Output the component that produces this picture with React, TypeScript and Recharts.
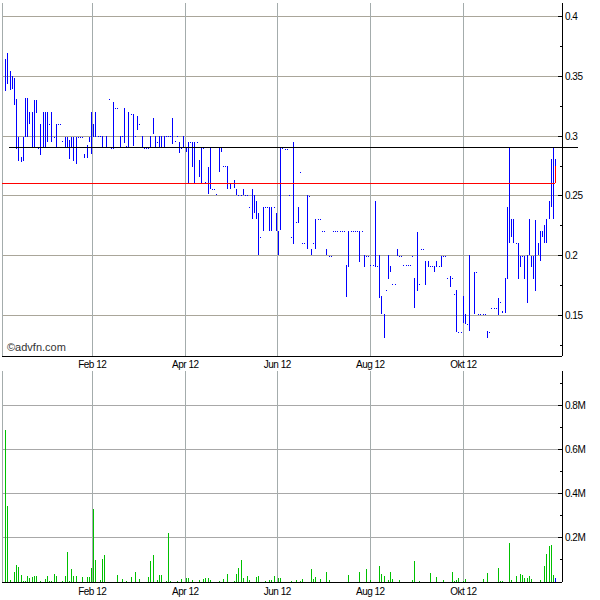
import React from 'react';
import { Bar, CartesianGrid, ComposedChart, ReferenceLine, XAxis, YAxis } from 'recharts';

// one entry per trading day (index = day), prices in EUR, volume in millions
const highs = [
  null, 0.365, 0.37, 0.355, 0.35, 0.349, 0.331, 0.299, 0.283, 0.299,
  0.332, 0.332, 0.32, 0.32, 0.33, 0.33, 0.29, 0.31, 0.32, 0.32,
  0.32, 0.31, 0.32, 0.299, 0.31, 0.31, 0.31, 0.296, 0.299, 0.299,
  0.297, 0.299, 0.299, 0.299, 0.299, 0.299, 0.299, 0.285, 0.293, 0.299,
  0.32, 0.31, 0.32, 0.3, 0.3, 0.3, 0.291, 0.3, 0.331, 0.29,
  0.329, 0.324, 0.324, 0.3, 0.3, 0.324, 0.292, 0.32, 0.319, 0.319,
  0.3, 0.317, 0.31, 0.3, 0.29, 0.29, 0.29, 0.3, 0.315, 0.3,
  0.295, 0.3, 0.3, 0.3, 0.3, 0.3, 0.3, 0.315, 0.296, 0.3,
  0.295, 0.29, 0.3, 0.29, 0.295, 0.295, 0.295, 0.295, 0.295, 0.28,
  0.29, 0.29, 0.262, 0.274, 0.29, 0.256, 0.256, 0.252, 0.29, 0.29,
  0.275, 0.275, 0.275, 0.261, 0.261, 0.263, 0.256, 0.251, 0.251, 0.256,
  0.251, 0.251, 0.241, 0.256, 0.251, 0.246, 0.236, 0.216, 0.241, 0.241,
  0.241, 0.241, 0.241, 0.241, 0.236, 0.221, 0.29, 0.29, 0.289, 0.289,
  0.251, 0.216, 0.295, 0.228, 0.241, 0.27, 0.211, 0.211, 0.251, 0.25,
  0.206, 0.211, 0.231, 0.231, 0.231, 0.221, 0.221, 0.206, 0.2, 0.2,
  0.221, 0.221, 0.221, 0.221, 0.221, 0.221, 0.192, 0.221, 0.221, 0.221,
  0.221, 0.221, 0.221, 0.221, 0.201, 0.2, 0.2, 0.192, 0.192, 0.246,
  0.191, 0.201, 0.166, 0.151, 0.171, 0.201, 0.191, 0.176, 0.176, 0.206,
  0.2, 0.2, 0.192, 0.192, 0.192, 0.192, 0.2, 0.181, 0.22, 0.176,
  0.206, 0.206, 0.196, 0.196, 0.191, 0.191, 0.191, 0.196, 0.191, 0.2,
  0.2, 0.2, 0.181, 0.183, 0.181, 0.168, 0.171, 0.136, 0.136, 0.166,
  0.151, 0.143, 0.201, null, 0.186, 0.186, 0.151, 0.151, 0.151, 0.151,
  0.137, 0.136, 0.156, 0.156, 0.156, 0.165, 0.161, 0.154, 0.181, 0.241,
  0.291, 0.231, 0.231, 0.211, 0.211, 0.2, 0.2, 0.2, 0.201, 0.231,
  0.2, 0.2, 0.23, 0.211, 0.221, 0.221, 0.226, 0.231, 0.246, 0.281,
  0.291, 0.281,
];

const lows = [
  null, 0.338, 0.344, 0.339, 0.339, 0.326, 0.289, 0.279, 0.279, 0.279,
  0.299, 0.299, 0.31, 0.291, 0.29, 0.319, 0.29, 0.284, 0.29, 0.29,
  0.295, 0.31, 0.295, 0.299, 0.29, 0.31, 0.31, 0.296, 0.29, 0.29,
  0.281, 0.29, 0.279, 0.276, 0.299, 0.299, 0.299, 0.282, 0.282, 0.295,
  0.285, 0.299, 0.299, 0.3, 0.3, 0.29, 0.29, 0.29, 0.331, 0.29,
  0.29, 0.324, 0.324, 0.29, 0.3, 0.295, 0.292, 0.29, 0.319, 0.292,
  0.3, 0.305, 0.31, 0.29, 0.29, 0.29, 0.29, 0.291, 0.302, 0.29,
  0.295, 0.29, 0.29, 0.29, 0.3, 0.3, 0.3, 0.293, 0.296, 0.3,
  0.286, 0.29, 0.29, 0.287, 0.261, 0.295, 0.274, 0.261, 0.295, 0.266,
  0.261, 0.29, 0.262, 0.251, 0.256, 0.256, 0.256, 0.252, 0.27, 0.287,
  0.275, 0.275, 0.256, 0.256, 0.261, 0.256, 0.251, 0.251, 0.251, 0.251,
  0.251, 0.251, 0.241, 0.231, 0.236, 0.231, 0.201, 0.216, 0.221, 0.241,
  0.241, 0.221, 0.221, 0.241, 0.221, 0.201, 0.221, 0.29, 0.289, 0.289,
  0.251, 0.216, 0.21, 0.228, 0.228, 0.27, 0.211, 0.211, 0.206, 0.25,
  0.201, 0.211, 0.206, 0.231, 0.231, 0.221, 0.221, 0.201, 0.2, 0.2,
  0.221, 0.221, 0.221, 0.221, 0.221, 0.221, 0.165, 0.191, 0.221, 0.221,
  0.221, 0.221, 0.195, 0.221, 0.191, 0.2, 0.2, 0.192, 0.192, 0.191,
  0.191, 0.165, 0.151, 0.131, 0.171, 0.181, 0.186, 0.176, 0.176, 0.2,
  0.2, 0.2, 0.192, 0.192, 0.192, 0.192, 0.2, 0.156, 0.171, 0.176,
  0.206, 0.206, 0.176, 0.191, 0.191, 0.191, 0.186, 0.191, 0.191, 0.191,
  0.2, 0.2, 0.181, 0.174, 0.181, 0.168, 0.136, 0.136, 0.136, 0.143,
  0.143, 0.143, 0.137, null, 0.151, 0.186, 0.151, 0.151, 0.151, 0.151,
  0.131, 0.136, 0.156, 0.156, 0.156, 0.151, 0.161, 0.152, 0.152, 0.181,
  0.211, 0.216, 0.211, 0.211, 0.181, 0.191, 0.2, 0.181, 0.161, 0.201,
  0.191, 0.181, 0.171, 0.201, 0.196, 0.216, 0.211, 0.211, 0.231, 0.241,
  0.231, 0.261,
];

const volumes = [
  0, 0.689, 0.344, 0.01, 0, 0.044, 0.079, 0.066, 0.033, 0.006,
  0.006, 0.029, 0.017, 0.023, 0.026, 0.029, 0, 0.006, 0, 0.015,
  0.029, 0.006, 0.006, 0.038, 0.029, 0, 0, 0.006, 0.029, 0.138,
  0.006, 0.06, 0.029, 0.029, 0, 0, 0.024, 0, 0.024, 0.023,
  0.064, 0.329, 0.101, 0, 0.01, 0.106, 0.124, 0, 0, 0,
  0, 0, 0.033, 0, 0.015, 0, 0.006, 0, 0.024, 0,
  0.045, 0, 0.015, 0, 0, 0, 0.024, 0.097, 0.124, 0,
  0.01, 0.033, 0.033, 0, 0.006, 0.22, 0.006, 0, 0, 0.006,
  0, 0.015, 0, 0.02, 0.02, 0, 0.01, 0, 0, 0.01,
  0, 0.015, 0.02, 0.02, 0.01, 0, 0, 0, 0.006, 0,
  0.015, 0, 0.038, 0, 0, 0.006, 0.038, 0.064, 0.101, 0.02,
  0, 0.029, 0.01, 0, 0, 0.024, 0.029, 0, 0, 0.006,
  0, 0.01, 0.01, 0.029, 0, 0.02, 0.02, 0, 0, 0,
  0, 0.006, 0, 0.01, 0, 0.006, 0.015, 0, 0, 0,
  0.06, 0.015, 0.024, 0, 0.015, 0, 0, 0.045, 0.01, 0,
  0, 0, 0, 0, 0, 0, 0, 0.033, 0, 0,
  0, 0, 0.047, 0, 0, 0.06, 0, 0.01, 0, 0,
  0, 0.074, 0.038, 0.029, 0, 0.01, 0.045, 0.015, 0, 0,
  0.01, 0, 0, 0, 0, 0, 0.01, 0.093, 0, 0.006,
  0, 0, 0, 0, 0.04, 0, 0, 0.024, 0, 0,
  0.01, 0, 0, 0, 0.045, 0.006, 0.01, 0.02, 0, 0.006,
  0.015, 0, 0, 0, 0, 0, 0, 0, 0.015, 0,
  0.04, 0, 0, 0, 0, 0.065, 0.006, 0.006, 0, 0,
  0.175, 0.01, 0, 0.029, 0, 0.038, 0.033, 0.02, 0.02, 0.029,
  0.015, 0, 0, 0, 0.01, 0, 0.074, 0.128, 0.164, 0.168,
  0.03, 0.02,
];

const monthTicks = [40.5, 82.8, 124.6, 166.9, 209.2];
const monthLabels = ['Feb 12', 'Apr 12', 'Jun 12', 'Aug 12', 'Okt 12'];

const priceTicks = [0.125, 0.15, 0.175, 0.2, 0.225, 0.25, 0.275, 0.3, 0.325, 0.35, 0.375, 0.4];
const priceGrid = [0.15, 0.2, 0.25, 0.3, 0.35, 0.4];
const volumeTicks = [0.1, 0.2, 0.3, 0.4, 0.5, 0.6, 0.7, 0.8, 0.9];
const volumeGrid = [0.2, 0.4, 0.6, 0.8];

// horizontal levels drawn over the price panel
const upperLevel = 0.2908;
const lowerLevel = 0.2606;
const lowerLevelEnd = 0.2747;

const data = highs.map((h, i) => ({
  day: i,
  range: h == null ? null : [lows[i], h],
  vol: volumes[i],
}));
const lastDay = data.length - 1;

const FONT = '"Liberation Sans", Arial, sans-serif';
const DAY_DOMAIN: [number, number] = [-0.5, 254];

const PriceStick = (props: any) => {
  const { x, y, width, height, payload } = props;
  if (!payload || payload.range == null || !isFinite(y)) return <g />;
  const top = Math.round(Math.min(y, y + height));
  const h = Math.max(1, Math.round(Math.abs(height)));
  return <rect x={Math.floor(x + width / 2)} y={top} width={1} height={h} fill="#0000ff" />;
};

const VolumeStick = (props: any) => {
  const { x, y, width, height, payload } = props;
  if (!payload || !payload.vol || !isFinite(y)) return <g />;
  const h = Math.max(1, Math.round(Math.abs(height)));
  return (
    <rect
      x={Math.floor(x + width / 2)}
      y={Math.round(y + height) - h}
      width={1}
      height={h}
      fill={payload.day === lastDay ? '#0000ff' : '#00c000'}
    />
  );
};

const makeSideTick = (side: 'left' | 'right', isMajor: (v: number) => boolean, fmt: (v: number) => string) =>
  (props: any) => {
    const { x, y, payload } = props;
    const major = isMajor(payload.value);
    const len = major ? 4 : 2;
    const dir = side === 'right' ? -1 : 1;
    return (
      <g>
        <line x1={x} x2={x + dir * len} y1={y} y2={y} stroke="#000" />
        {side === 'right' && major && (
          <text x={x + 3} y={y} dy="0.35em" fontSize={10} fontFamily={FONT} fill="#000" letterSpacing={-0.5}>
            {fmt(payload.value)}
          </text>
        )}
      </g>
    );
  };

const priceMajor = (v: number) => Math.round(v * 1000) % 50 === 0;
const volumeMajor = (v: number) => Math.round(v * 10) % 2 === 0;
const fmtPrice = (v: number) => String(Math.round(v * 1000) / 1000);
const fmtVolume = (v: number) => `${Math.round(v * 10) / 10}M`;

const monthFmt = (v: number) => monthLabels[monthTicks.indexOf(v)] ?? '';

const xTick = { fontSize: 10, fill: '#000', fontFamily: FONT, letterSpacing: -0.5 };

const App = () => {
  return (
    <div
      style={{
        position: 'absolute',
        left: 0,
        top: 0,
        width: 600,
        height: 600,
        background: '#fff',
        shapeRendering: 'crispEdges',
      }}
    >
      <div style={{ position: 'absolute', left: 0, top: 0 }}>
        <ComposedChart width={600} height={370} data={data} margin={{ top: 3, right: 0, bottom: 0, left: 2 }}>
          <CartesianGrid yAxisId="p" vertical={false} horizontalValues={priceGrid} stroke="#aaa69a" />
          <CartesianGrid yAxisId="p" horizontal={false} stroke="#a4acac" />
          <XAxis
            dataKey="day"
            type="number"
            domain={DAY_DOMAIN}
            ticks={monthTicks}
            interval={0}
            tickFormatter={monthFmt}
            tick={xTick}
            tickLine={false}
            tickSize={0}
            tickMargin={5}
            height={14}
            axisLine={{ stroke: '#000' }}
          />
          <XAxis xAxisId="t" orientation="top" dataKey="day" type="number" domain={DAY_DOMAIN} height={0} tick={false} tickLine={false} axisLine={{ stroke: '#000' }} />
          <YAxis
            yAxisId="p"
            orientation="right"
            type="number"
            domain={[0.1161, 0.4115]}
            ticks={priceTicks}
            interval={0}
            width={38}
            tickSize={0}
            tickMargin={0}
            tickLine={false}
            tick={makeSideTick('right', priceMajor, fmtPrice)}
            axisLine={{ stroke: '#000' }}
          />
          <YAxis
            yAxisId="l"
            orientation="left"
            type="number"
            domain={[0.1161, 0.4115]}
            ticks={priceTicks}
            interval={0}
            width={0}
            tickSize={0}
            tickMargin={0}
            tickLine={false}
            tick={makeSideTick('left', priceMajor, fmtPrice)}
            axisLine={{ stroke: '#000' }}
          />
          <Bar yAxisId="p" dataKey="range" barSize={1} shape={PriceStick} isAnimationActive={false} />
          <ReferenceLine
            yAxisId="p"
            segment={[{ x: -0.5, y: lowerLevel }, { x: lastDay, y: lowerLevel }]}
            stroke="#ff0000"
            ifOverflow="visible"
          />
          <ReferenceLine
            yAxisId="p"
            segment={[{ x: lastDay, y: lowerLevel }, { x: lastDay, y: lowerLevelEnd }]}
            stroke="#ff0000"
            ifOverflow="visible"
          />
          <ReferenceLine
            yAxisId="p"
            segment={[{ x: 2.7, y: upperLevel }, { x: 261.3, y: upperLevel }]}
            stroke="#000"
            ifOverflow="visible"
          />
        </ComposedChart>
        <div style={{ position: 'absolute', left: 7, top: 341, fontSize: 11, fontFamily: FONT, color: '#333' }}>
          ©advfn.com
        </div>
      </div>
      <div style={{ position: 'absolute', left: 0, top: 370 }}>
        <ComposedChart width={600} height={230} data={data} margin={{ top: 1, right: 0, bottom: 0, left: 2 }}>
          <CartesianGrid yAxisId="v" vertical={false} horizontalValues={volumeGrid} stroke="#a8a8a8" />
          <CartesianGrid yAxisId="v" horizontal={false} stroke="#a4acac" />
          <XAxis
            dataKey="day"
            type="number"
            domain={DAY_DOMAIN}
            ticks={monthTicks}
            interval={0}
            tickFormatter={monthFmt}
            tick={xTick}
            tickLine={false}
            tickSize={0}
            tickMargin={6}
            height={18}
            axisLine={{ stroke: '#000' }}
          />
          <XAxis xAxisId="t" orientation="top" dataKey="day" type="number" domain={DAY_DOMAIN} height={0} tick={false} tickLine={false} axisLine={{ stroke: '#000' }} />
          <YAxis
            yAxisId="v"
            orientation="right"
            type="number"
            domain={[0, 0.957]}
            ticks={volumeTicks}
            interval={0}
            width={38}
            tickSize={0}
            tickMargin={0}
            tickLine={false}
            tick={makeSideTick('right', volumeMajor, fmtVolume)}
            axisLine={{ stroke: '#000' }}
          />
          <YAxis
            yAxisId="lv"
            orientation="left"
            type="number"
            domain={[0, 0.957]}
            ticks={volumeTicks}
            interval={0}
            width={0}
            tickSize={0}
            tickMargin={0}
            tickLine={false}
            tick={makeSideTick('left', volumeMajor, fmtVolume)}
            axisLine={{ stroke: '#000' }}
          />
          <Bar yAxisId="v" dataKey="vol" barSize={1} shape={VolumeStick} isAnimationActive={false} />
        </ComposedChart>
      </div>
    </div>
  );
};

export default App;
